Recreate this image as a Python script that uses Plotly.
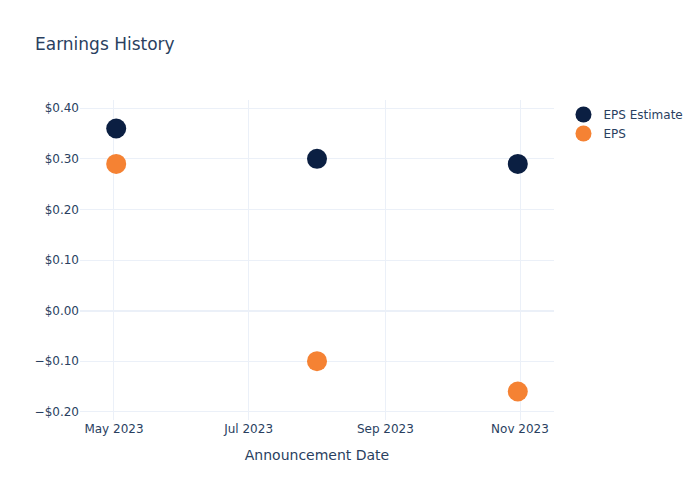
import plotly.graph_objects as go

dates = ["2023-05-02", "2023-08-01", "2023-10-31"]
eps_estimate = [0.36, 0.30, 0.29]
eps_actual = [0.29, -0.10, -0.16]

fig = go.Figure()
fig.add_trace(go.Scatter(x=dates, y=eps_estimate, mode="markers", name="EPS Estimate",
                         marker=dict(size=20, color="#0b1f42")))
fig.add_trace(go.Scatter(x=dates, y=eps_actual, mode="markers", name="EPS",
                         marker=dict(size=20, color="#f58233")))
fig.update_layout(
    template="plotly_white",
    width=700, height=500,
    font=dict(family="DejaVu Sans"),
    title=dict(text="Earnings History"),
    xaxis=dict(title=dict(text="Announcement Date")),
    yaxis=dict(tickformat="$.2f"),
)
fig.write_html("out.html")
